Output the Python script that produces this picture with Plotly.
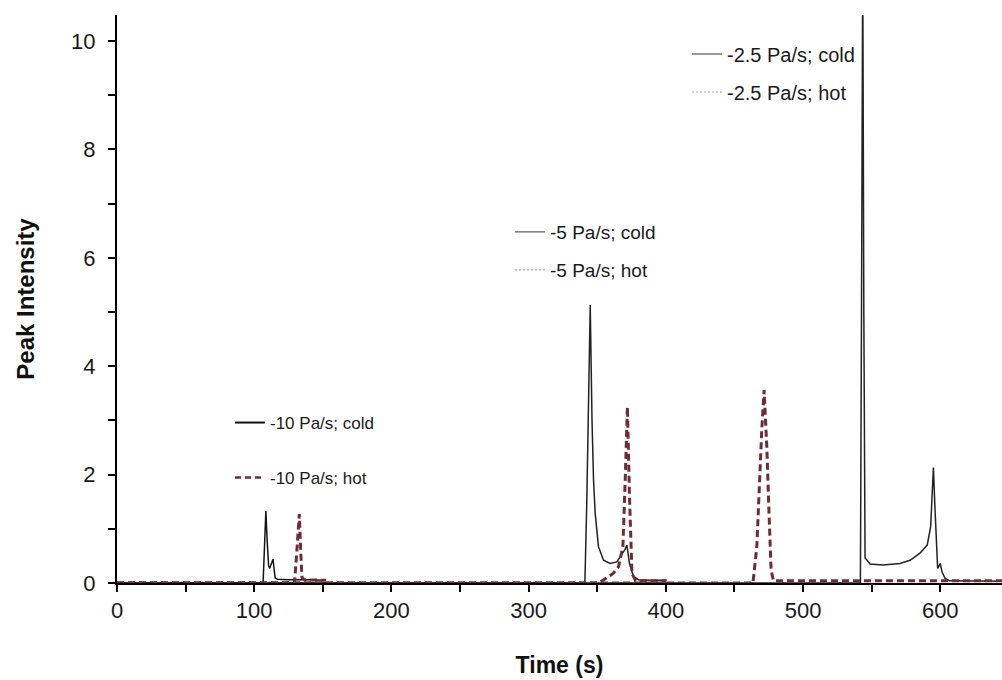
import plotly.graph_objects as go

# ---- data ----
t_cold10 = [0, 105, 106.5, 107.5, 108.5, 109.5, 110.5, 111.3, 112.5, 113.7, 114.5, 115.3, 117, 125, 140, 152.4]
y_cold10 = [0, 0, 0.02, 0.9, 1.33, 0.75, 0.32, 0.27, 0.36, 0.44, 0.25, 0.09, 0.07, 0.06, 0.06, 0.05]

t_hot10 = [0, 129.3, 130.3, 131.5, 132.9, 133.8, 134.8, 136.5, 145, 152.4]
y_hot10 = [0, 0, 0.3, 0.8, 1.27, 0.65, 0.1, 0.06, 0.05, 0.05]

t_cold5 = [0, 341.0, 342.4, 343.8, 344.9, 346.2, 347.3, 348.5, 350.9, 354.6, 359.4, 364.3, 368.0, 370.3, 371.6,
           373.5, 376.4, 380.0, 390.0, 400.5]
y_cold5 = [0, 0, 1.5, 3.8, 5.13, 3.0, 1.9, 1.29, 0.67, 0.42, 0.36, 0.39, 0.52, 0.62, 0.70,
           0.36, 0.12, 0.06, 0.05, 0.05]

t_hot5 = [0, 351.0, 356.7, 361.8, 365.5, 368.7, 370.4, 372.0, 373.5, 375.3, 378.0, 390.0, 400.5]
y_hot5 = [0, 0, 0.09, 0.18, 0.30, 0.67, 1.9, 3.25, 1.6, 0.18, 0.04, 0.04, 0.04]

t_cold25 = [0, 541.8, 542.6, 543.5, 544.3, 545.2, 548.9, 558.0, 570.6, 578.0, 585.2, 590.5, 593.0, 595.0,
            596.1, 597.4, 598.1, 600.0, 601.2, 603.4, 607.0, 650.0]
y_cold25 = [0, 0, 5.0, 11.5, 5.0, 0.46, 0.35, 0.33, 0.36, 0.42, 0.55, 0.70, 1.04, 2.13,
            1.41, 0.42, 0.27, 0.36, 0.21, 0.09, 0.04, 0.03]

t_hot25 = [0, 463.5, 466.3, 468.2, 469.9, 471.6, 473.6, 475.2, 476.7, 478.4, 500.0, 650.0]
y_hot25 = [0, 0, 0.67, 1.9, 2.82, 3.56, 2.51, 1.29, 0.24, 0.04, 0.04, 0.04]

legend_labels = ["-10 Pa/s; cold", "-10 Pa/s; hot", "-5 Pa/s; cold", "-5 Pa/s; hot",
                 "-2.5 Pa/s; cold", "-2.5 Pa/s; hot"]

x_ticks = [0, 100, 200, 300, 400, 500, 600]
y_ticks = [0, 2, 4, 6, 8, 10]

# ---- styles ----
HOT = "#6e2b3a"
COLD = "#151515"
HOT_DASH = "7px,4px"
FONT = "Liberation Sans, Arial, sans-serif"

fig = go.Figure()

series = [
    (t_cold10, y_cold10, dict(color=COLD, width=1.5)),
    (t_cold5, y_cold5, dict(color="#222222", width=1.5)),
    (t_cold25, y_cold25, dict(color="#222222", width=1.5)),
    (t_hot10, y_hot10, dict(color=HOT, width=3, dash=HOT_DASH)),
    (t_hot5, y_hot5, dict(color=HOT, width=3, dash=HOT_DASH)),
    (t_hot25, y_hot25, dict(color=HOT, width=3, dash=HOT_DASH)),
]
for tx, ty, ln in series:
    fig.add_trace(go.Scatter(x=tx, y=ty, mode="lines", line=ln, showlegend=False,
                             hoverinfo="x+y"))

# legend entries (one legend per entry so each can be placed like the reference)
leg_styles = [
    dict(color="#111111", width=2),
    dict(color=HOT, width=2.5, dash="6px,4px"),
    dict(color="#777777", width=1.5),
    dict(color="#c09aa4", width=1.2, dash="2px,2px"),
    dict(color="#777777", width=1.5),
    dict(color="#c09aa4", width=1.2, dash="2px,2px"),
]
leg_names = ["legend", "legend2", "legend3", "legend4", "legend5", "legend6"]
leg_font = [17, 17, 19, 19, 20, 20]
for name, ln, lg in zip(legend_labels, leg_styles, leg_names):
    fig.add_trace(go.Scatter(x=[None], y=[None], mode="lines", line=ln, name=name,
                             legend=lg, showlegend=True))

# plot area: x 117..1002 px, y 15..583 px
W, H = 1002, 680
L, R, T, B = 117, 0, 15, 97
pw, ph = W - L - R, H - T - B

def px(xp):
    return (xp - L) / pw

def py(yp):
    return (H - B - yp) / ph

leg_pos = [(270, 423), (270, 478), (550, 232), (550, 270), (727, 54), (727, 92)]
layout_legends = {}
for lg, (tx, ty), fs in zip(leg_names, leg_pos, leg_font):
    layout_legends[lg] = dict(
        x=px(tx - 40), y=py(ty), xanchor="left", yanchor="middle",
        bgcolor="rgba(0,0,0,0)", borderwidth=0,
        font=dict(family=FONT, size=fs, color="#1a1a1a"),
        itemwidth=30,
    )

fig.update_layout(
    width=W, height=H,
    margin=dict(l=L, r=R, t=T, b=B, pad=0),
    paper_bgcolor="white", plot_bgcolor="white",
    font=dict(family=FONT, color="#1a1a1a"),
    **layout_legends,
)

fig.update_xaxes(
    range=[0, 645], showgrid=False, zeroline=False,
    showline=True, linecolor="black", linewidth=2,
    tickmode="array", tickvals=x_ticks, ticktext=[str(v) for v in x_ticks],
    ticks="outside", ticklen=7, tickwidth=1.5, tickcolor="black",
    minor=dict(dtick=50, tick0=0, ticks="outside", ticklen=7, tickwidth=1.5, tickcolor="black"),
    tickfont=dict(family=FONT, size=22, color="#1a1a1a"),
    title=dict(text="<b>Time (s)</b>", font=dict(family=FONT, size=23, color="#111"), standoff=34),
)
fig.update_yaxes(
    range=[0, 10.48], showgrid=False, zeroline=False,
    showline=True, linecolor="black", linewidth=2,
    tickmode="array", tickvals=y_ticks, ticktext=[str(v) for v in y_ticks],
    ticks="outside", ticklen=7, tickwidth=1.5, tickcolor="black",
    minor=dict(dtick=1, tick0=0, ticks="outside", ticklen=7, tickwidth=1.5, tickcolor="black"),
    tickfont=dict(family=FONT, size=22, color="#1a1a1a"),
    ticklabelstandoff=8,
    title=dict(text="<b>Peak Intensity</b>", font=dict(family=FONT, size=24, color="#111"), standoff=30),
)

fig.write_html("out.html")
